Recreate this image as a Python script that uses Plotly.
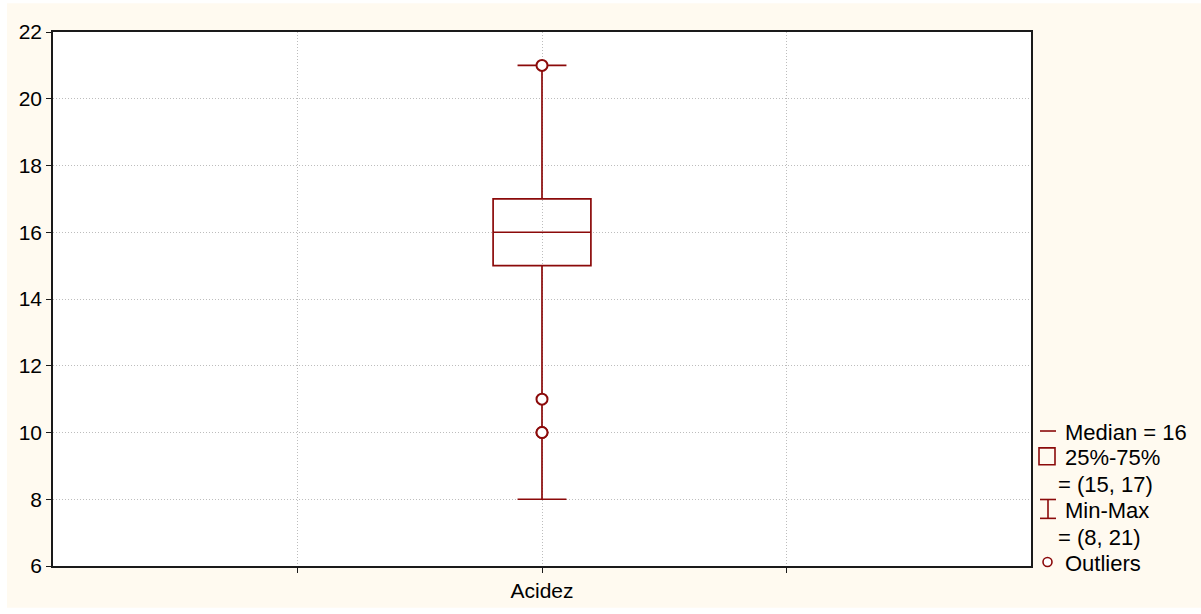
import plotly.graph_objects as go

# Box-plot summary for the "Acidez" variable
categories = ["Acidez"]
cat_pos = [2]
q1 = [15]
median = [16]
q3 = [17]
minimum = [8]
maximum = [21]
outliers = [21, 11, 10, 10]

y_ticks = [6, 8, 10, 12, 14, 16, 18, 20, 22]
x_grid = [1, 2, 3]

RED = "#8B0A0A"
FONT = "Liberation Sans, Arial, sans-serif"

W, H = 1201, 614
L, R, T, B = 53, 1031, 32, 570


def px(x):
    return (x - L) / (R - L)


def py(y):
    return (B - y) / (B - T)


fig = go.Figure()

fig.add_trace(go.Box(
    x=cat_pos, q1=q1, median=median, q3=q3,
    lowerfence=minimum, upperfence=maximum,
    width=0.4, whiskerwidth=0.5,
    line=dict(color=RED, width=1.7),
    fillcolor="rgba(0,0,0,0)",
    boxpoints=False, showlegend=False, hoverinfo="skip",
))

fig.add_trace(go.Scatter(
    x=[cat_pos[0]] * len(outliers), y=outliers, mode="markers",
    marker=dict(symbol="circle", size=11, color="white",
                line=dict(color=RED, width=2)),
    showlegend=False, hoverinfo="skip",
))

shapes = [
    # page background and white plotting area
    dict(type="rect", xref="paper", yref="paper", layer="below",
         x0=px(7), x1=px(W + 5), y0=py(612), y1=py(3),
         fillcolor="#FFFAF0", line=dict(width=0)),
    dict(type="rect", xref="paper", yref="paper", layer="below",
         x0=0, x1=1, y0=0, y1=1, fillcolor="white", line=dict(width=0)),
    # legend keys
    dict(type="line", xref="paper", yref="paper",
         x0=px(1040), x1=px(1056), y0=py(434), y1=py(434),
         line=dict(color=RED, width=1.6)),
    dict(type="rect", xref="paper", yref="paper",
         x0=px(1039), x1=px(1055), y0=py(468), y1=py(451),
         line=dict(color=RED, width=1.6)),
    dict(type="line", xref="paper", yref="paper",
         x0=px(1048), x1=px(1048), y0=py(522), y1=py(503),
         line=dict(color=RED, width=1.6)),
    dict(type="line", xref="paper", yref="paper",
         x0=px(1040), x1=px(1056), y0=py(503), y1=py(503),
         line=dict(color=RED, width=1.6)),
    dict(type="line", xref="paper", yref="paper",
         x0=px(1040), x1=px(1056), y0=py(522), y1=py(522),
         line=dict(color=RED, width=1.6)),
    dict(type="circle", xref="paper", yref="paper",
         x0=px(1043), x1=px(1052), y0=py(570.5), y1=py(561.5),
         line=dict(color=RED, width=1.6), fillcolor="white"),
]

legend_rows = [
    (1063, 435, f"Median = {median[0]}"),
    (1063, 461, "25%-75%"),
    (1056, 488, f"= ({q1[0]}, {q3[0]})"),
    (1063, 514, "Min-Max"),
    (1056, 541, f"= ({minimum[0]}, {maximum[0]})"),
    (1063, 567, "Outliers"),
]
annotations = [
    dict(x=px(x), y=py(y), xref="paper", yref="paper", text=t,
         showarrow=False, xanchor="left", yanchor="middle",
         font=dict(family=FONT, size=22, color="black"))
    for x, y, t in legend_rows
]

GRID = dict(showgrid=True, gridcolor="#bdbdbd", griddash="1px,2px", gridwidth=1,
            showline=True, linecolor="#1a1a1a", linewidth=1.5, mirror=True,
            ticks="outside", ticklen=5, tickcolor="#1a1a1a", zeroline=False,
            tickfont=dict(family=FONT, size=21, color="black"))

fig.update_layout(
    width=W, height=H,
    margin=dict(l=L, r=W - R, t=T, b=H - B, pad=0),
    paper_bgcolor="white",
    plot_bgcolor="rgba(0,0,0,0)",
    font=dict(family=FONT, size=21, color="black"),
    shapes=shapes,
    annotations=annotations,
    showlegend=False,
)

fig.update_xaxes(
    range=[0, 4], tickvals=x_grid,
    ticktext=["" if v not in cat_pos else categories[cat_pos.index(v)] for v in x_grid],
    **GRID,
)
fig.update_yaxes(range=[6, 22], tickvals=y_ticks, **GRID)

fig.write_html("out.html")
